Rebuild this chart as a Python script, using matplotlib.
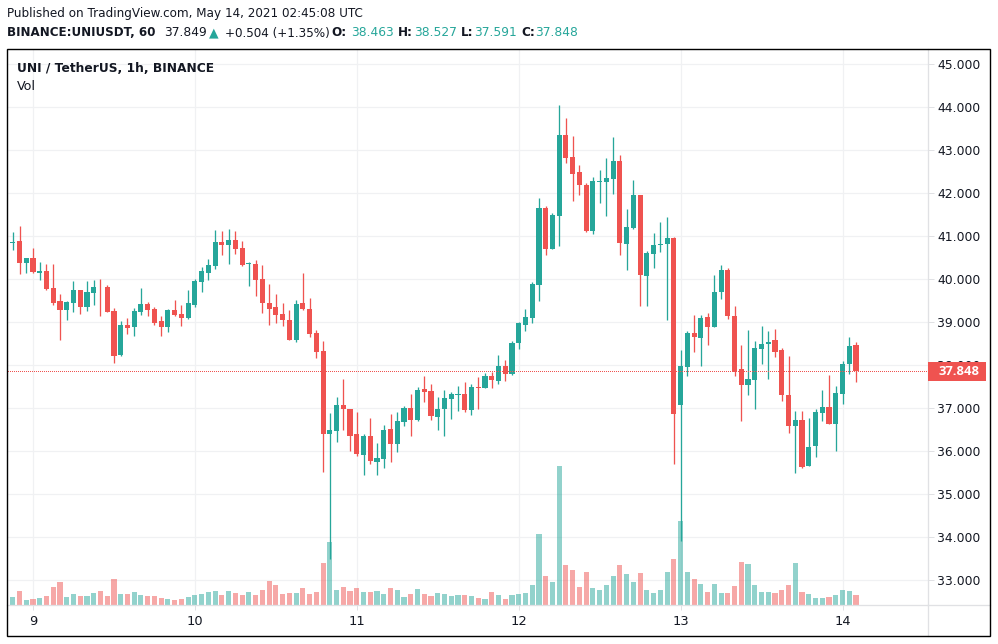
import matplotlib
matplotlib.use("Agg")
import matplotlib.pyplot as plt
from matplotlib.lines import Line2D
from matplotlib.patches import Rectangle

opens = [40.84,40.88,40.37,40.49,40.14,40.19,39.79,39.49,39.28,39.44,
 39.74,39.35,39.67,39.82,39.81,39.26,38.23,38.93,38.88,39.23,
 39.42,39.30,39.02,38.88,39.28,39.19,39.09,39.40,39.93,40.14,
 40.30,40.86,40.79,40.91,40.72,40.34,40.35,40.00,39.44,39.35,
 39.19,39.05,38.58,39.44,39.30,38.74,38.33,36.40,36.47,37.07,
 36.98,36.40,35.91,36.35,35.74,35.81,36.51,36.16,36.67,37.00,
 36.72,37.44,37.40,36.79,36.98,37.21,37.30,37.33,36.95,37.49,
 37.47,37.74,37.63,37.98,37.79,38.51,38.93,39.09,39.86,41.65,
 40.70,41.47,43.35,42.84,42.49,42.19,41.12,42.26,42.26,42.33,
 42.74,40.81,41.19,41.95,40.07,40.58,40.79,40.81,40.95,37.07,
 37.95,38.74,38.63,39.12,38.88,39.70,40.21,39.14,37.91,37.53,
 37.65,38.37,38.49,38.58,38.35,37.30,36.58,36.72,35.65,36.12,
 36.88,37.02,36.63,37.33,38.02,38.463]
closes = [40.86,40.37,40.49,40.16,40.19,39.77,39.44,39.28,39.47,39.74,
 39.35,39.70,39.81,39.80,39.23,38.21,38.93,38.86,39.26,39.42,
 39.28,38.98,38.88,39.28,39.16,39.09,39.44,39.95,40.19,40.33,
 40.86,40.79,40.91,40.70,40.33,40.36,39.98,39.44,39.30,39.16,
 39.05,38.58,39.42,39.30,38.72,38.30,36.40,36.49,37.07,36.98,
 36.35,35.93,36.35,35.77,35.84,36.49,36.16,36.70,37.00,36.72,
 37.42,37.37,36.81,36.98,37.23,37.33,37.33,36.95,37.49,37.47,
 37.74,37.65,37.98,37.79,38.51,38.98,39.12,39.88,41.65,40.70,
 41.49,43.35,42.81,42.44,42.19,41.12,42.28,42.28,42.35,42.74,
 40.84,41.21,41.95,40.09,40.60,40.79,40.81,40.95,36.86,37.98,
 38.74,38.65,39.09,38.88,39.70,40.21,39.14,37.84,37.53,37.67,
 38.40,38.49,38.53,38.30,37.30,36.58,36.72,35.63,36.09,36.91,
 37.02,36.63,37.35,38.02,38.44,37.848]
highs = [41.09,41.23,40.49,40.72,40.40,40.35,40.35,39.65,39.49,39.95,
 39.74,39.95,39.98,40.00,39.86,39.33,39.02,39.09,39.33,39.79,
 39.47,39.35,39.14,39.30,39.51,39.40,39.74,40.00,40.28,40.47,
 41.14,41.12,41.16,41.12,40.88,40.40,40.44,40.33,39.88,39.65,
 39.44,39.28,39.51,40.14,39.56,38.81,38.56,36.88,37.26,37.67,
 36.98,36.91,36.40,36.77,36.19,36.60,36.86,36.91,37.05,37.33,
 37.49,37.74,37.56,37.26,37.42,37.37,37.51,37.60,37.56,37.72,
 37.81,37.84,38.23,38.12,38.56,39.00,39.30,39.93,41.88,41.70,
 41.53,44.05,43.74,43.33,42.65,42.23,42.37,42.53,42.81,43.30,
 42.88,41.63,42.30,41.95,40.65,41.07,41.33,41.44,40.98,38.35,
 38.79,39.16,39.16,39.21,40.09,40.33,40.26,39.37,38.47,38.81,
 38.56,38.91,38.79,38.84,38.40,38.21,36.93,36.93,36.77,36.98,
 37.42,37.77,37.51,38.09,38.65,38.527]
lows = [40.67,40.12,40.14,40.14,39.98,39.74,39.40,38.58,39.05,39.23,
 39.19,39.26,39.40,39.14,39.23,38.05,38.21,38.72,38.67,39.16,
 39.14,38.93,38.67,38.77,39.14,38.91,39.07,39.35,39.70,39.98,
 40.23,40.56,40.35,40.58,40.30,39.84,39.60,39.21,38.93,38.98,
 38.91,38.58,38.53,39.28,38.65,38.16,35.51,33.47,36.21,36.49,
 36.00,35.88,35.44,35.70,35.44,35.60,35.74,35.98,36.58,36.35,
 36.70,37.14,36.72,36.49,36.35,36.74,36.93,36.91,36.84,36.98,
 37.47,37.47,37.56,37.63,37.77,38.37,38.79,38.98,39.49,40.56,
 40.70,40.77,42.70,41.81,41.95,41.09,41.05,41.77,41.47,41.98,
 40.56,40.21,41.16,39.37,39.37,40.26,40.63,39.05,35.70,33.91,
 37.74,38.30,37.98,38.47,38.88,39.53,39.07,37.74,36.70,37.30,
 36.98,38.02,37.67,38.19,37.16,36.42,35.49,35.60,35.65,35.86,
 36.70,36.63,36.00,37.09,37.79,37.591]
volumes = [24,42,15,18,21,27,54,69,24,33,
 27,27,36,42,27,78,33,33,39,30,
 27,27,21,18,15,18,24,30,33,39,
 42,30,42,36,30,39,30,45,72,60,
 33,36,36,51,33,39,126,189,45,54,
 42,51,39,39,42,33,51,45,24,33,
 48,33,27,36,33,27,30,30,27,21,
 18,39,30,18,30,33,36,60,213,87,
 69,417,120,105,54,99,51,45,60,87,
 120,93,69,96,45,36,45,99,138,252,
 99,78,63,39,63,36,36,57,129,123,
 60,39,39,36,45,60,126,39,33,21,
 21,24,30,45,42,30]
day_bars = [3, 27, 51, 75, 99, 123]
day_labels = ["9", "10", "11", "12", "13", "14"]
price_ticks = [33, 34, 35, 36, 37, 38, 39, 40, 41, 42, 43, 44, 45]
last_price = 37.848

UP, DOWN = "#26a69a", "#ef5350"
INK = "#131722"
GRID = "#f0f1f3"
EDGE = "#e0e1e4"
W, H = 998, 644
PRICE_PER_VOL = 1 / 129
plt.rcParams["font.family"] = "DejaVu Sans"


def px(v):
    return v * 72 / 100


fig = plt.figure(figsize=(W / 100, H / 100), dpi=100, facecolor="white")
L, R, T, B = 7.5, 927.5, 49.0, 605.0
ax = fig.add_axes([L / W, 1 - B / H, (R - L) / W, (B - T) / H])
ax.set_xlim(-0.78, 135.6)
ax.set_ylim(32.41, 45.35)
ax.set_axisbelow(True)
ax.grid(True, color=GRID, lw=px(1.2))

ymin = ax.get_ylim()[0]
xs = list(range(len(opens)))
colors = [UP if c >= o else DOWN for o, c in zip(opens, closes)]
ax.bar(xs, [v * PRICE_PER_VOL for v in volumes], bottom=ymin, width=0.76,
       color=colors, alpha=0.5, linewidth=0, zorder=2)
ax.vlines(xs, lows, highs, colors=colors, lw=px(1.3), zorder=3)
ax.bar(xs, [max(abs(c - o), 0.02) for o, c in zip(opens, closes)],
       bottom=[min(o, c) for o, c in zip(opens, closes)], width=0.76,
       color=colors, linewidth=0, zorder=4)
ax.axhline(last_price, color=DOWN, lw=px(1), ls=(0, (1, 2)), antialiased=False, zorder=5)

for s in ("left", "top"):
    ax.spines[s].set_visible(False)
for s in ("right", "bottom"):
    ax.spines[s].set_color(EDGE)
    ax.spines[s].set_linewidth(px(1.3))
ax.yaxis.tick_right()
ax.set_yticks(price_ticks, [f"{p:.3f}" for p in price_ticks])
ax.set_xticks(day_bars, day_labels)
ax.tick_params(axis="y", length=px(6), width=px(1), color=EDGE, labelcolor=INK,
               labelsize=px(12.4), pad=px(4))
ax.tick_params(axis="x", length=px(5), width=px(1), color=EDGE, labelcolor=INK,
               labelsize=px(13), pad=px(5))

# last-price badge, over the axis labels
fig.add_artist(Rectangle((928 / W, 1 - 380.5 / H), 58 / W, 18.5 / H,
                         transform=fig.transFigure, fc=DOWN, ec="none", zorder=10))
fig.text(959 / W, 1 - 371.5 / H, f"{last_price:.3f}", color="white", weight="bold",
         family="Open Sans", fontsize=px(13), ha="center", va="center", zorder=11)

# panel frame and the separators that run past the price pane
fig.add_artist(Line2D([R / W, 990 / W], [1 - B / H] * 2, color=EDGE, lw=px(1.3)))
fig.add_artist(Line2D([R / W] * 2, [1 - B / H, 1 - 636 / H], color=EDGE, lw=px(1.3)))
fig.add_artist(Rectangle((7 / W, 1 - 636 / H), 983 / W, 587 / H, transform=fig.transFigure,
                         fc="none", ec="black", lw=px(1.4), zorder=12))


def t(x, y, s, color=INK, weight="normal", size=12.2):
    fig.text(x / W, 1 - y / H, s, color=color, weight=weight, fontsize=px(size),
             ha="left", va="center")


t(7, 14, "Published on TradingView.com, May 14, 2021 02:45:08 UTC", size=12.0)
t(7, 33, "BINANCE:UNIUSDT, 60", weight="bold", size=11.9)
t(164, 33, "37.849")
t(209, 32.5, "▲", color=UP, size=12.5)
t(225, 33, "+0.504 (+1.35%)", size=12.0)
t(331, 33, "O:", weight="bold", size=12)
t(351, 33, "38.463", color=UP)
t(398, 33, "H:", weight="bold", size=12)
t(414, 33, "38.527", color=UP)
t(461, 33, "L:", weight="bold", size=12)
t(474, 33, "37.591", color=UP)
t(521, 33, "C:", weight="bold", size=12)
t(535, 33, "37.848", color=UP)
t(17, 68, "UNI / TetherUS, 1h, BINANCE", weight="bold", size=12.2)
t(17, 87, "Vol", size=12.6)

fig.savefig("out.png", dpi=100, facecolor="white")
